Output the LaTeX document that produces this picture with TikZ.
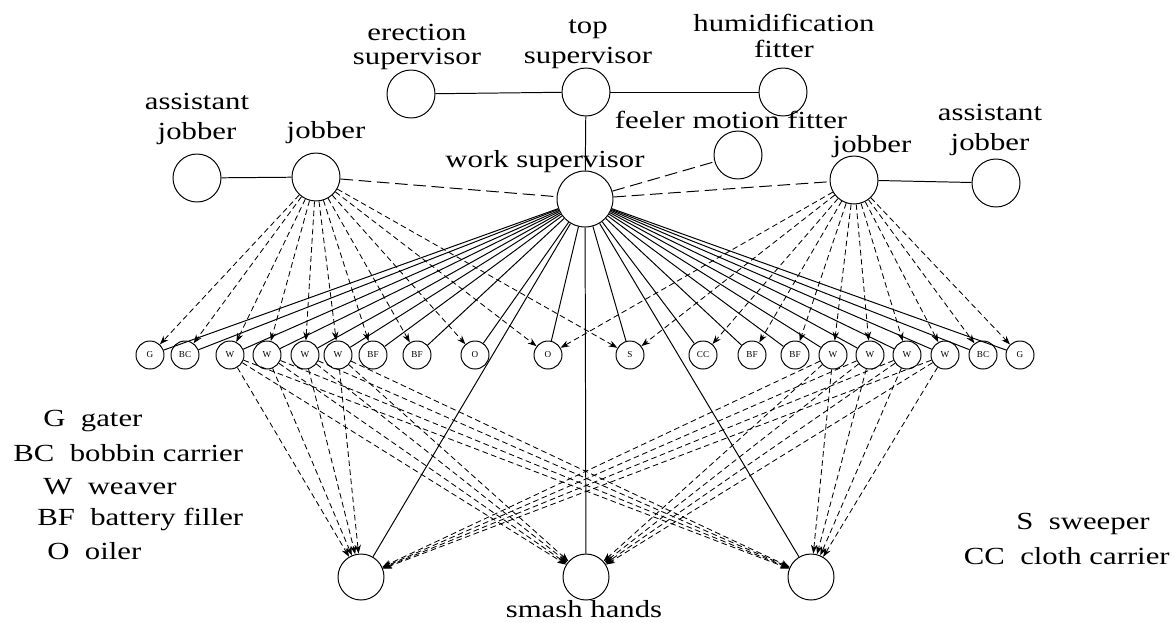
\documentclass[tikz,border=0pt]{standalone}
\usepackage{fontspec}
\setmainfont{Liberation Serif}
\usepackage{tikz}
\usetikzlibrary{positioning, arrows.meta}

\begin{document}
\begin{tikzpicture}[
    x=0.25mm, y=-0.25mm,
    person/.style={draw, circle, inner sep=0pt, minimum size=12mm, line width=0.7pt},
    worker/.style={person, minimum size=7mm, font=\fontsize{6.5}{7}\selectfont},
    lbl/.style={align=center, inner sep=0pt, font=\fontsize{17.5}{21}\selectfont, xscale=1.25, transform shape},
    solidln/.style={line width=0.7pt},
    longdash/.style={line width=0.7pt, dash pattern=on 9pt off 4pt},
    dashln/.style={line width=0.6pt, dash pattern=on 4pt off 2.5pt, -{Stealth[length=2.2mm, width=1.6mm]}},
]
\useasboundingbox (0,0) rectangle (1176,622);

% === top level ===
\node[person] (es) at (411,94) {};
\node[person] (ts) at (586,92) {};
\node[person] (hf) at (783,92) {};
\node[lbl] (esl) at (417,47) {erection\\[-4pt]supervisor};
\node[lbl] (tsl) at (588,44) {top\\supervisor};
\node[lbl] (hfl) at (784,36) {humidification\\[-3pt]fitter};

% === second level ===
\node[person] (aj1) at (197,178) {};
\node[person] (j1) at (316,177) {};
\node[person, minimum size=14mm] (ws) at (585,199) {};
\node[person] (fmf) at (738,155) {};
\node[person] (j2) at (854,180) {};
\node[person] (aj2) at (996,183) {};
\node[lbl] (aj1l) at (197,119) {assistant\\jobber};
\node[lbl] (j1l) at (326,133) {jobber};
\node[lbl] (wsl) at (545,162) {work supervisor};
\node[lbl] (fmfl) at (731,120) {feeler motion fitter};
\node[lbl] (j2l) at (872,147) {jobber};
\node[lbl] (aj2l) at (990,130) {assistant\\jobber};

% === workers ===
\foreach \x/\t [count=\i] in {150/G, 185/BC, 230/W, 267/W, 305/W, 338/W, 373/BF, 417/BF,
    475/O, 548/O, 630/S, 703/CC, 752/BF, 795/BF, 833/W, 870/W, 907/W, 945/W, 983/BC, 1020/G}
  \node[worker] (w\i) at (\x,355) {\t};

% === smash hands ===
\node[person, minimum size=11.5mm] (b1) at (361,577) {};
\node[person, minimum size=11.5mm] (b2) at (586,577) {};
\node[person, minimum size=11.5mm] (b3) at (811,577) {};
\node[lbl] (b2l) at (584,609) {smash hands};

% --- legend ---
\node[lbl, anchor=west] (lg1) at (43,421) {G\ \ gater};
\node[lbl, anchor=west] (lg2) at (13,453) {BC\ \ bobbin carrier};
\node[lbl, anchor=west] (lg3) at (43,487) {W\ \ weaver};
\node[lbl, anchor=west] (lg4) at (37,519) {BF\ \ battery filler};
\node[lbl, anchor=west] (lg5) at (47,551) {O\ \ oiler};
\node[lbl, anchor=east] (lg6) at (1150,524) {S\ \ sweeper};
\node[lbl, anchor=east] (lg7) at (1170,556) {CC\ \ cloth carrier};

% --- supervisors ---
\draw[solidln] (es) -- (ts);
\draw[solidln] (ts) -- (hf);
\draw[solidln] (ts) -- (ws);
\draw[solidln] (aj1) -- (j1);
\draw[solidln] (j2) -- (aj2);
\draw[longdash] (j1) -- (ws);
\draw[longdash] (ws) -- (fmf);
\draw[longdash] (ws) -- (j2);

% --- work supervisor to workers ---
\foreach \i in {1,...,20}
  \draw[solidln] (ws) -- (w\i);
\foreach \b in {b1,b2,b3}
  \draw[solidln] (ws) -- (\b);

% --- jobbers to workers ---
\foreach \i in {1,...,11}
  \draw[dashln] (j1) -- (w\i);
\foreach \i in {10,...,20}
  \draw[dashln] (j2) -- (w\i);

% --- weavers to smash hands ---
\foreach \i in {3,4,5,6,15,16,17,18}
  \foreach \b in {b1,b2,b3}
    \draw[dashln] (w\i) -- (\b);

\end{tikzpicture}
\end{document}
